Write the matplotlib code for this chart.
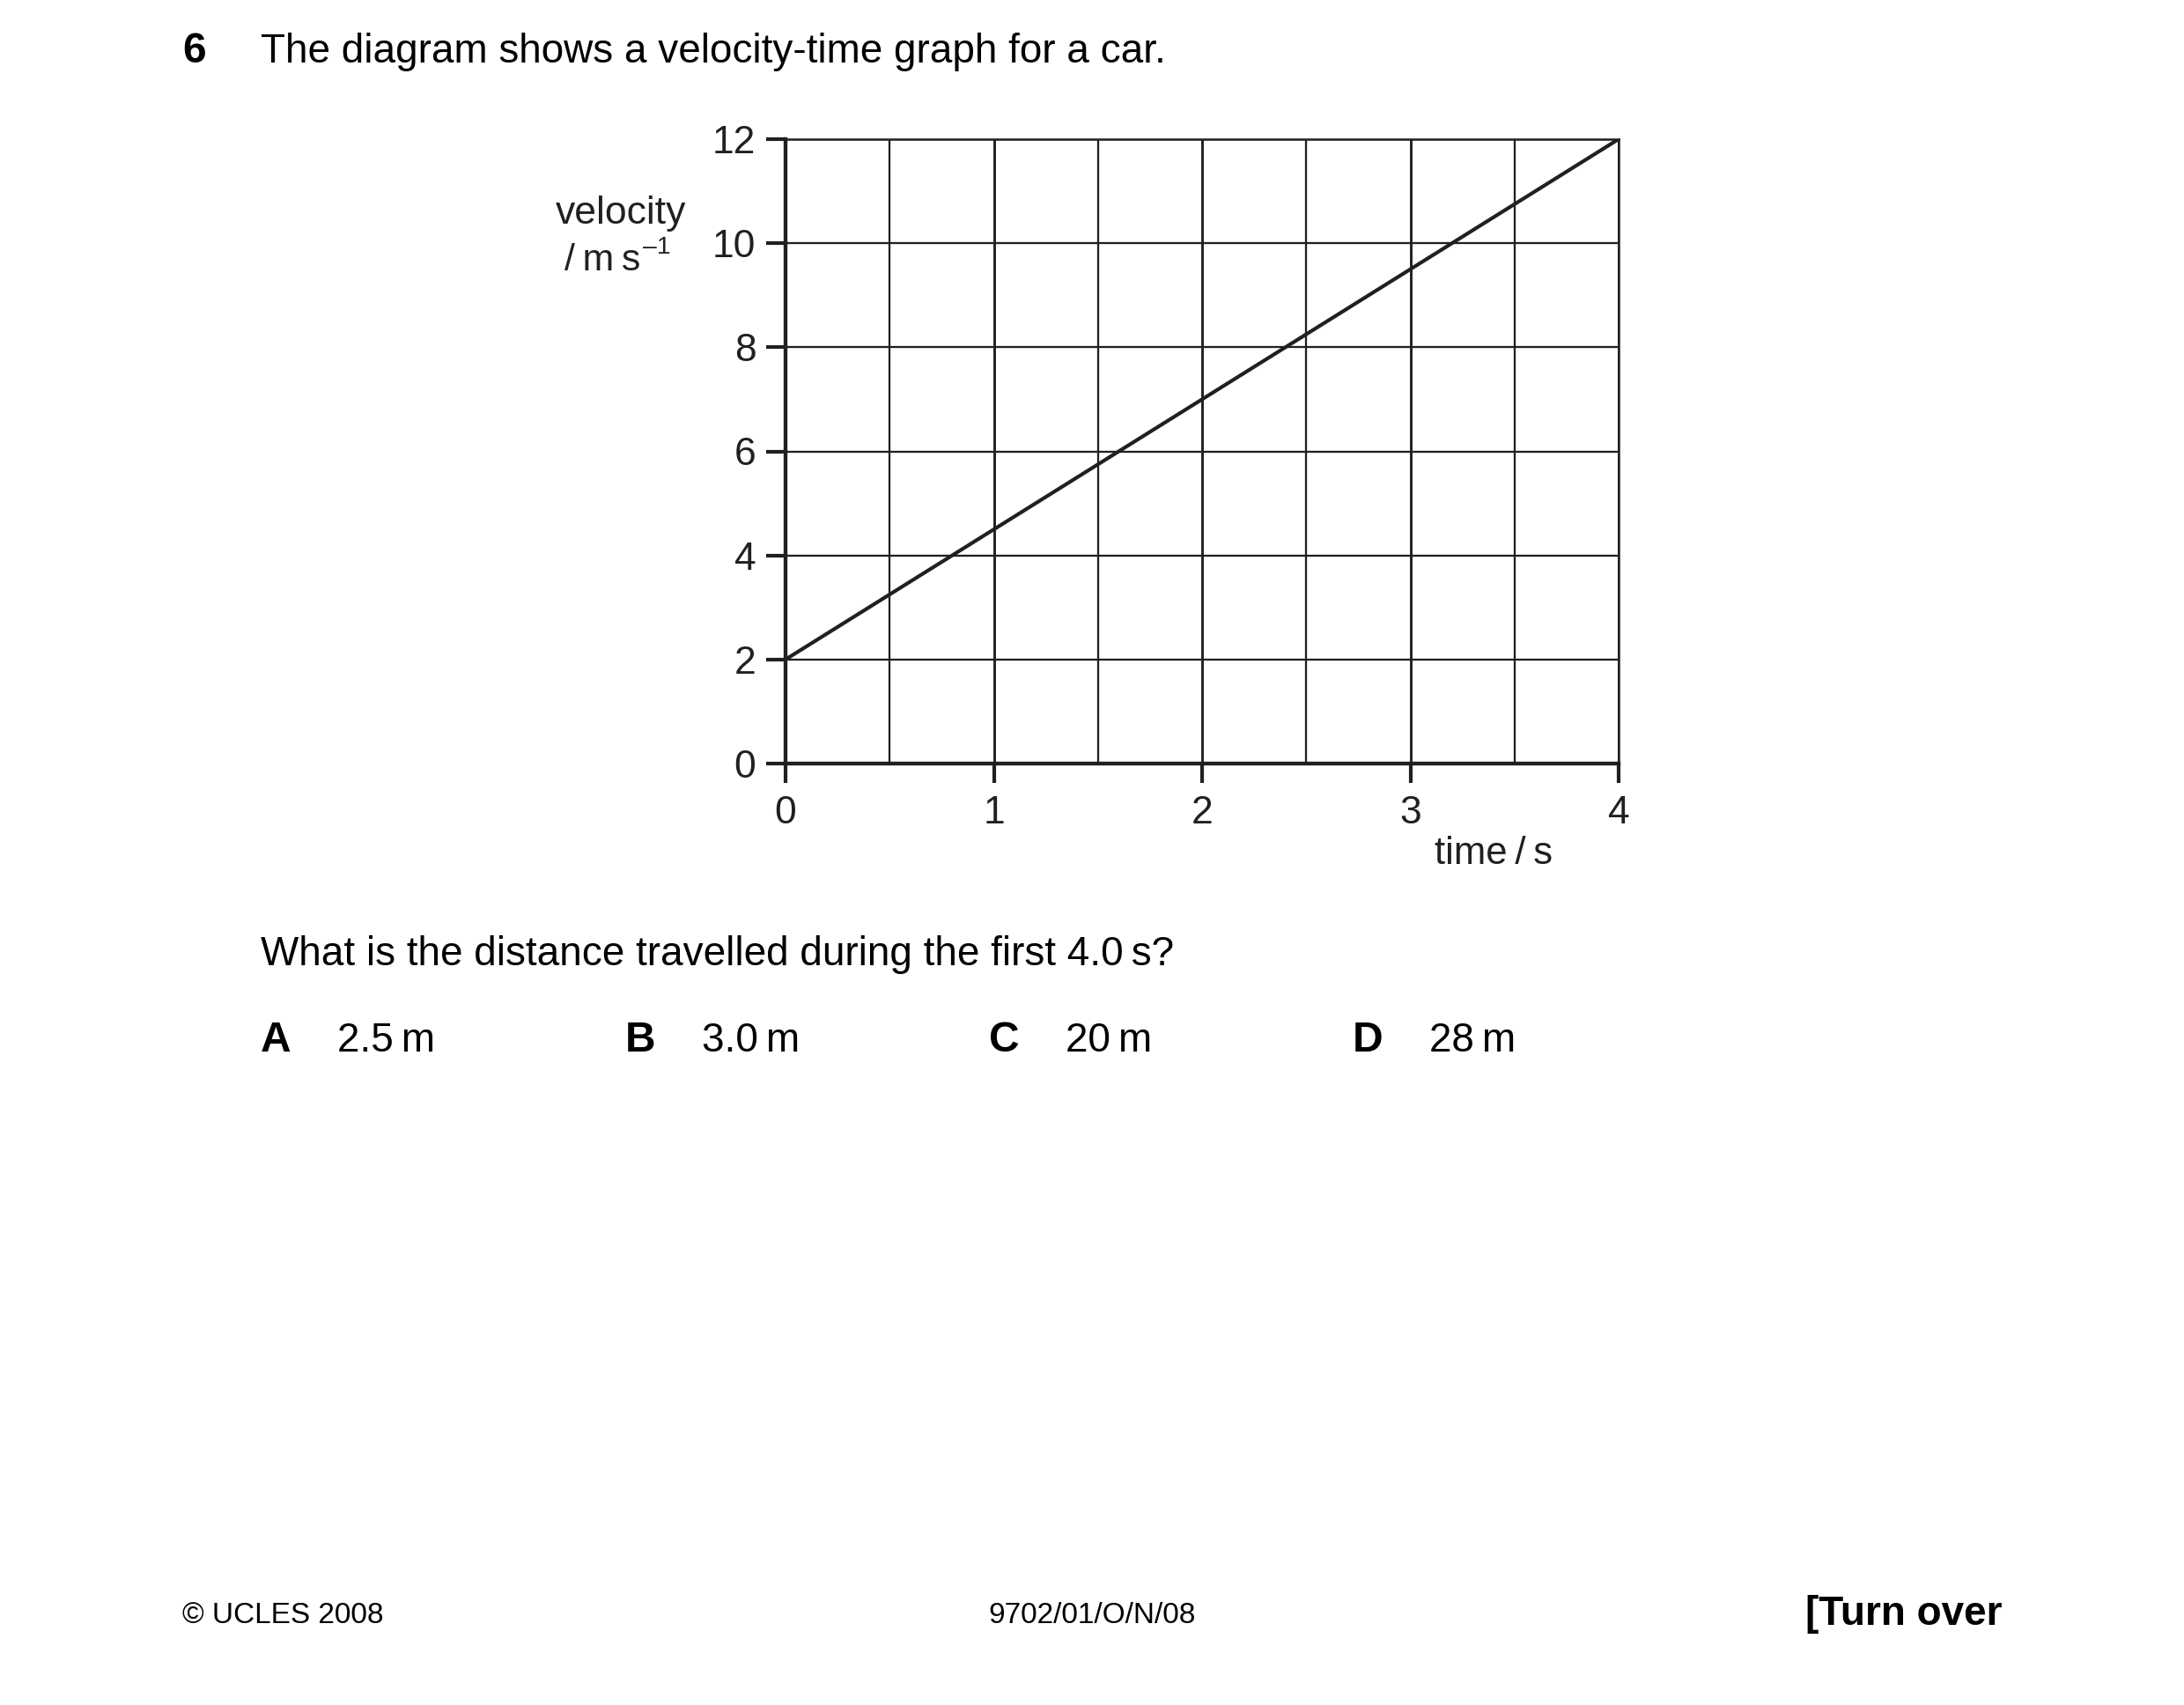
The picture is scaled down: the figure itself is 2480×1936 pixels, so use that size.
import matplotlib
matplotlib.use('Agg')
from matplotlib import pyplot as plt
from matplotlib.ticker import MultipleLocator

plt.rcParams['font.family'] = ['Liberation Sans', 'DejaVu Sans']

# data
time_s = [0, 4]
velocity = [2, 12]
x_ticks = [0, 1, 2, 3, 4]
y_ticks = [0, 2, 4, 6, 8, 10, 12]

options = ['A', 'B', 'C', 'D']
answers = ['2.5\u2009m', '3.0\u2009m', '20\u2009m', '28\u2009m']

ink = '#231f20'
W, H = 2480, 1936

fig = plt.figure(figsize=(W / 300, H / 300), dpi=300)


def px(x, y):
    # pixel position on the page -> figure fraction
    return x / W, 1 - y / H


ax = fig.add_axes([892 / W, 1 - 867 / H, (1838 - 892) / W, (867 - 158) / H])
ax.plot(time_s, velocity, color=ink, lw=1.0, solid_capstyle='butt', zorder=3)

ax.set_xlim(0, 4)
ax.set_ylim(0, 12)
ax.set_xticks(x_ticks)
ax.set_yticks(y_ticks)
ax.xaxis.set_minor_locator(MultipleLocator(0.5))
ax.grid(which='major', axis='x', color=ink, lw=0.7)
ax.grid(which='minor', axis='x', color=ink, lw=0.55)
ax.grid(which='major', axis='y', color=ink, lw=0.55)

for s in ['top', 'right']:
    ax.spines[s].set_linewidth(0.6)
    ax.spines[s].set_color(ink)
for s in ['left', 'bottom']:
    ax.spines[s].set_linewidth(1.05)
    ax.spines[s].set_color(ink)

ax.tick_params(axis='both', which='major', direction='out', length=5.3,
               width=1.0, color=ink, labelsize=10.7, labelcolor=ink)
ax.tick_params(axis='x', pad=3.4)
ax.tick_params(axis='y', pad=2.8)
ax.tick_params(which='minor', length=0)

# axis labels
fig.text(*px(705, 254), 'velocity', fontsize=10.7, color=ink, ha='center', va='baseline')
fig.text(*px(727, 307), '/\u2009m\u2009s', fontsize=10.3, color=ink, ha='right', va='baseline')
fig.text(*px(730, 288), '\u20131', fontsize=6.8, color=ink, ha='left', va='baseline')
fig.text(*px(1696, 981), 'time\u2009/\u2009s', fontsize=10.5, color=ink, ha='center', va='baseline')

# question text
fig.text(*px(207, 71), '6', fontsize=11.5, fontweight='bold', color='black', va='baseline')
fig.text(*px(296, 71), 'The diagram shows a velocity-time graph for a car.',
         fontsize=11, color='black', va='baseline')
fig.text(*px(296, 1096), 'What is the distance travelled during the first 4.0\u2009s?',
         fontsize=11, color='black', va='baseline')

opt_x = [296, 710, 1123, 1536]
for i in range(len(options)):
    fig.text(*px(opt_x[i], 1194), options[i], fontsize=11.5, fontweight='bold',
             color='black', va='baseline')
    fig.text(*px(opt_x[i] + 87, 1194), answers[i], fontsize=11,
             color='black', va='baseline')

# footer
fig.text(*px(207, 1843), '\u00a9 UCLES 2008', fontsize=8, color='black', va='baseline')
fig.text(*px(1240, 1843), '9702/01/O/N/08', fontsize=8, color='black',
         ha='center', va='baseline')
fig.text(*px(2273, 1845), '[Turn over', fontsize=11, fontweight='bold',
         color='black', ha='right', va='baseline')

fig.savefig('out.png', dpi=300, facecolor='white')
